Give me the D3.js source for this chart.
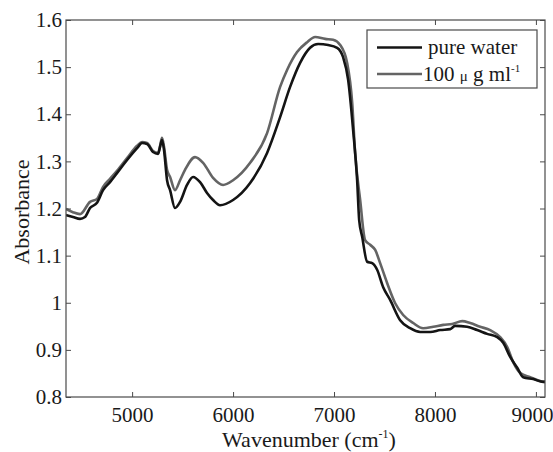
<!DOCTYPE html>
<html>
<head>
<meta charset="utf-8">
<script src="https://cdn.jsdelivr.net/npm/d3@7/dist/d3.min.js"></script>
<style>
  html, body { margin: 0; padding: 0; background: #ffffff; }
  svg { display: block; }
</style>
</head>
<body>
<svg id="chart" width="553" height="452"></svg>
<script>
// ---- Data ----
const seriesNames = ["pure water", "100 μg ml-1"];

const wavePure = [4345, 4414, 4484, 4533, 4583, 4652, 4712, 4781, 4850, 4950, 5049, 5098, 5148, 5207, 5257, 5277, 5296, 5316, 5346, 5376, 5425, 5475, 5544, 5604, 5673, 5742, 5802, 5871, 6000, 6169, 6337, 6466, 6565, 6664, 6763, 6843, 6942, 7031, 7090, 7140, 7189, 7229, 7249, 7279, 7328, 7378, 7427, 7487, 7556, 7655, 7754, 7854, 7953, 8052, 8151, 8200, 8319, 8418, 8517, 8617, 8676, 8745, 8815, 8874, 8973, 9072, 9090];
const absPure  = [1.186, 1.182, 1.178, 1.182, 1.201, 1.212, 1.239, 1.256, 1.275, 1.303, 1.328, 1.339, 1.337, 1.320, 1.316, 1.331, 1.345, 1.324, 1.260, 1.239, 1.201, 1.214, 1.250, 1.267, 1.256, 1.233, 1.218, 1.207, 1.218, 1.254, 1.318, 1.394, 1.458, 1.509, 1.541, 1.549, 1.547, 1.541, 1.521, 1.473, 1.367, 1.260, 1.176, 1.140, 1.087, 1.084, 1.070, 1.033, 1.006, 0.963, 0.946, 0.938, 0.938, 0.942, 0.944, 0.951, 0.949, 0.942, 0.934, 0.927, 0.915, 0.885, 0.862, 0.842, 0.838, 0.832, 0.832];

const waveConc = [4345, 4414, 4484, 4583, 4652, 4712, 4781, 4850, 4950, 5049, 5098, 5148, 5207, 5257, 5277, 5296, 5316, 5346, 5376, 5425, 5475, 5524, 5623, 5703, 5802, 5901, 6000, 6169, 6337, 6466, 6535, 6634, 6734, 6813, 6912, 6991, 7061, 7130, 7180, 7209, 7259, 7308, 7358, 7408, 7457, 7526, 7606, 7685, 7784, 7883, 7983, 8082, 8171, 8270, 8349, 8448, 8547, 8646, 8716, 8775, 8845, 8944, 9043, 9090];
const absConc  = [1.199, 1.192, 1.188, 1.214, 1.220, 1.246, 1.263, 1.280, 1.307, 1.333, 1.341, 1.339, 1.322, 1.318, 1.333, 1.350, 1.331, 1.282, 1.267, 1.239, 1.260, 1.282, 1.309, 1.297, 1.265, 1.250, 1.260, 1.297, 1.360, 1.458, 1.494, 1.532, 1.553, 1.564, 1.560, 1.558, 1.547, 1.509, 1.424, 1.318, 1.218, 1.133, 1.123, 1.112, 1.084, 1.042, 0.999, 0.974, 0.957, 0.946, 0.949, 0.953, 0.955, 0.961, 0.957, 0.949, 0.942, 0.927, 0.906, 0.874, 0.851, 0.842, 0.834, 0.832];

const xTicks = [5000, 6000, 7000, 8000, 9000];
const yTicks = [0.8, 0.9, 1.0, 1.1, 1.2, 1.3, 1.4, 1.5, 1.6];
const yTickLabels = ["0.8", "0.9", "1", "1.1", "1.2", "1.3", "1.4", "1.5", "1.6"];
const xDomain = [4345, 9090];
const yDomain = [0.8, 1.6];

// ---- Layout ----
const FONT = "Liberation Serif";
const svg = d3.select("#chart");
const pLeft = 66, pRight = 545, pTop = 20, pBottom = 397;
const x = d3.scaleLinear().domain(xDomain).range([pLeft, pRight]);
const y = d3.scaleLinear().domain(yDomain).range([pBottom, pTop]);
const axisColor = "#4a4a4a";
const textColor = "#1a1a1a";
const fontSize = 21;

const line = d3.line().x(d => x(d[0])).y(d => y(d[1])).curve(d3.curveMonotoneX);
const pureData = wavePure.map((w, i) => [w, absPure[i]]);
const concData = waveConc.map((w, i) => [w, absConc[i]]);

svg.append("clipPath").attr("id", "clip").append("rect")
  .attr("x", pLeft).attr("y", pTop).attr("width", pRight - pLeft).attr("height", pBottom - pTop);

const plot = svg.append("g").attr("clip-path", "url(#clip)");
plot.append("path").datum(concData).attr("d", line)
  .attr("fill", "none").attr("stroke", "#646464").attr("stroke-width", 2.6).attr("stroke-linejoin", "round");
plot.append("path").datum(pureData).attr("d", line)
  .attr("fill", "none").attr("stroke", "#141414").attr("stroke-width", 2.6).attr("stroke-linejoin", "round");

function styleAxis(g) {
  g.attr("font-family", FONT).attr("font-size", fontSize);
  g.select(".domain").remove();
  g.selectAll(".tick line").attr("stroke", axisColor).attr("stroke-width", 1);
  g.selectAll(".tick text").attr("font-family", FONT).attr("font-size", fontSize).attr("fill", textColor);
}
const xAxis = svg.append("g").attr("transform", `translate(0,${pBottom})`)
  .call(d3.axisBottom(x).tickValues(xTicks).tickFormat(d3.format("d")).tickSize(-5).tickPadding(10));
styleAxis(xAxis);
// keep the last label inside the window, as in the reference
xAxis.selectAll(".tick text").filter(d => d === 9000).attr("dx", -4);

const yAxis = svg.append("g").attr("transform", `translate(${pLeft},0)`)
  .call(d3.axisLeft(y).tickValues(yTicks).tickFormat((d, i) => yTickLabels[i]).tickSize(-5).tickPadding(4));
styleAxis(yAxis);

const xAxisTop = svg.append("g").attr("transform", `translate(0,${pTop})`)
  .call(d3.axisTop(x).tickValues(xTicks).tickFormat("").tickSize(-5));
styleAxis(xAxisTop);
const yAxisRight = svg.append("g").attr("transform", `translate(${pRight},0)`)
  .call(d3.axisRight(y).tickValues(yTicks).tickFormat("").tickSize(-5));
styleAxis(yAxisRight);

svg.append("rect").attr("x", pLeft).attr("y", pTop).attr("width", pRight - pLeft).attr("height", pBottom - pTop)
  .attr("fill", "none").attr("stroke", axisColor).attr("stroke-width", 1.2);

const xt = svg.append("text").attr("x", 309).attr("y", 447)
  .attr("font-family", FONT).attr("font-size", 22).attr("fill", textColor).attr("text-anchor", "middle");
xt.append("tspan").text("Wavenumber (cm");
xt.append("tspan").text("-1").attr("dy", -9).attr("font-size", 12);
xt.append("tspan").text(")").attr("dy", 9);

svg.append("text").attr("transform", "translate(29,212) rotate(-90)")
  .attr("font-family", FONT).attr("font-size", 22).attr("fill", textColor)
  .attr("text-anchor", "middle").text("Absorbance");

const lg = svg.append("g").attr("font-family", FONT).attr("fill", textColor);
lg.append("rect").attr("x", 367).attr("y", 30).attr("width", 170).attr("height", 58)
  .attr("fill", "#ffffff").attr("stroke", axisColor).attr("stroke-width", 1.2);
const legendItems = [
  { color: "#141414", y: 47.5 },
  { color: "#646464", y: 74 }
];
legendItems.forEach(it => {
  lg.append("line").attr("x1", 377).attr("x2", 422).attr("y1", it.y).attr("y2", it.y)
    .attr("stroke", it.color).attr("stroke-width", 2.6);
});
lg.append("text").attr("x", 428).attr("y", 54).attr("font-size", fontSize).text(seriesNames[0]);
const t2 = lg.append("text").attr("x", 423).attr("y", 80.5).attr("font-size", fontSize);
t2.append("tspan").text("100 ");
t2.append("tspan").text(" μ").attr("font-size", 15);
t2.append("tspan").text(" g ml");
t2.append("tspan").text("-1").attr("dy", -9).attr("font-size", 11);
</script>
</body>
</html>
